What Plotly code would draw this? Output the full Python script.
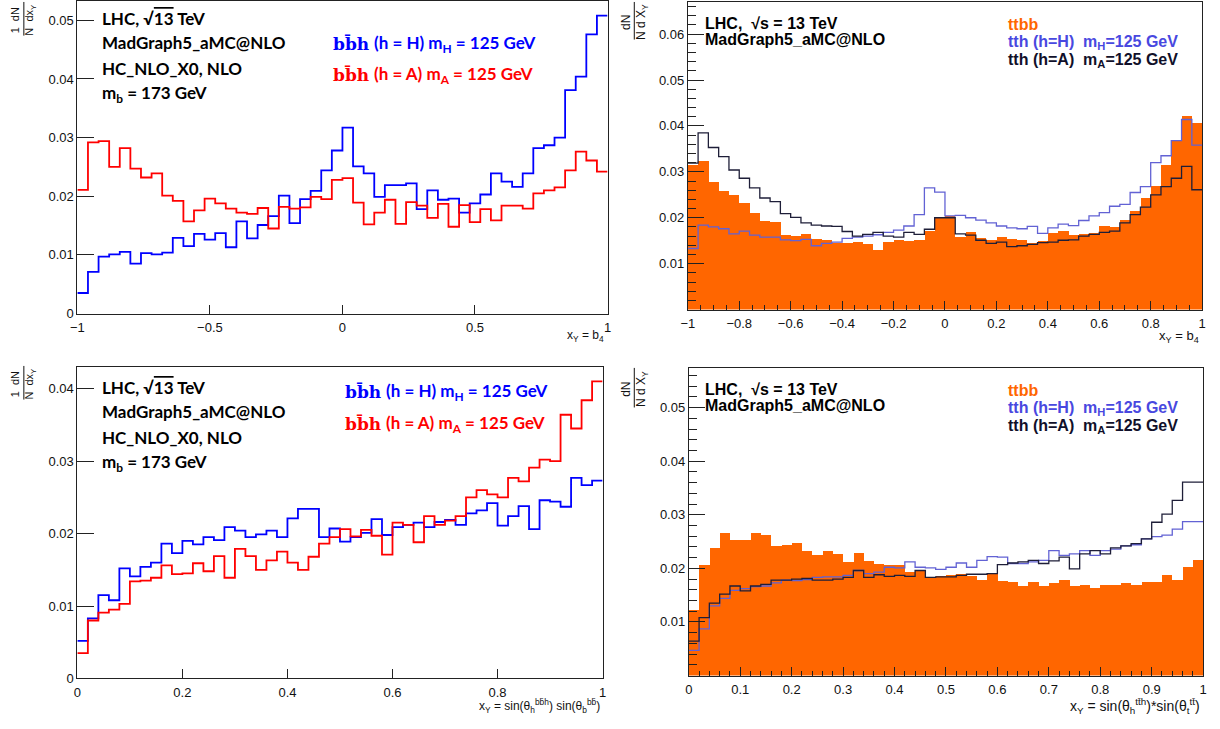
import numpy as np
import plotly.graph_objects as go

W, H = 1220, 729

# ---------------- data: normalised distributions, 50 bins each ----------------
b4_edges = np.linspace(-1.0, 1.0, 51)
sin_edges = np.linspace(0.0, 1.0, 51)

# b b~ h, x_Y = b4
bbh_H_b4 = [0.0035, 0.0071, 0.0097, 0.0101, 0.0105, 0.0085, 0.0103, 0.0101, 0.0104, 0.0129,
            0.0115, 0.0136, 0.0126, 0.0137, 0.0113, 0.0157, 0.0128, 0.0151, 0.0166, 0.0201,
            0.0154, 0.0195, 0.0209, 0.0244, 0.0278, 0.0317, 0.0251, 0.0239, 0.0199, 0.0219,
            0.0219, 0.0222, 0.0178, 0.0210, 0.0194, 0.0196, 0.0172, 0.0188, 0.0203, 0.0239,
            0.0225, 0.0216, 0.0239, 0.0282, 0.0287, 0.0300, 0.0381, 0.0404, 0.0476, 0.0508]
bbh_A_b4 = [0.0211, 0.0292, 0.0294, 0.0250, 0.0282, 0.0247, 0.0232, 0.0239, 0.0201, 0.0192,
            0.0157, 0.0176, 0.0196, 0.0188, 0.0179, 0.0172, 0.0170, 0.0180, 0.0145, 0.0182,
            0.0179, 0.0181, 0.0199, 0.0195, 0.0228, 0.0231, 0.0189, 0.0152, 0.0172, 0.0194,
            0.0153, 0.0190, 0.0184, 0.0163, 0.0187, 0.0148, 0.0185, 0.0156, 0.0178, 0.0159,
            0.0184, 0.0184, 0.0179, 0.0205, 0.0210, 0.0215, 0.0244, 0.0276, 0.0261, 0.0242]

# b b~ h, x_Y = sin * sin
bbh_H_sin = [0.0052, 0.0083, 0.0115, 0.0108, 0.0152, 0.0141, 0.0154, 0.0160, 0.0186, 0.0173,
             0.0190, 0.0185, 0.0195, 0.0191, 0.0209, 0.0204, 0.0195, 0.0199, 0.0204, 0.0195,
             0.0221, 0.0234, 0.0234, 0.0195, 0.0207, 0.0189, 0.0195, 0.0201, 0.0220, 0.0198,
             0.0209, 0.0212, 0.0215, 0.0209, 0.0216, 0.0219, 0.0212, 0.0228, 0.0232, 0.0242,
             0.0211, 0.0224, 0.0238, 0.0206, 0.0246, 0.0244, 0.0237, 0.0277, 0.0267, 0.0273]
bbh_A_sin = [0.0035, 0.0080, 0.0091, 0.0095, 0.0103, 0.0134, 0.0135, 0.0139, 0.0156, 0.0144,
             0.0145, 0.0159, 0.0148, 0.0169, 0.0139, 0.0179, 0.0169, 0.0150, 0.0163, 0.0175,
             0.0160, 0.0150, 0.0168, 0.0186, 0.0195, 0.0206, 0.0196, 0.0205, 0.0197, 0.0171,
             0.0215, 0.0212, 0.0188, 0.0224, 0.0212, 0.0218, 0.0224, 0.0250, 0.0260, 0.0254,
             0.0250, 0.0277, 0.0272, 0.0291, 0.0302, 0.0300, 0.0364, 0.0345, 0.0384, 0.0410]

# t t~ b b~ and t t~ h, x_Y = b4
ttbb_b4 = [0.0315, 0.0324, 0.0278, 0.0258, 0.0250, 0.0232, 0.0211, 0.0194, 0.0191, 0.0163,
           0.0160, 0.0165, 0.0153, 0.0151, 0.0146, 0.0146, 0.0147, 0.0142, 0.0129, 0.0148,
           0.0151, 0.0150, 0.0151, 0.0171, 0.0202, 0.0204, 0.0158, 0.0168, 0.0155, 0.0151,
           0.0158, 0.0153, 0.0152, 0.0145, 0.0150, 0.0167, 0.0171, 0.0163, 0.0165, 0.0167,
           0.0183, 0.0180, 0.0196, 0.0214, 0.0243, 0.0270, 0.0315, 0.0369, 0.0422, 0.0407]
tth_H_b4 = [0.0133, 0.0184, 0.0180, 0.0176, 0.0165, 0.0171, 0.0162, 0.0158, 0.0158, 0.0152,
            0.0150, 0.0153, 0.0139, 0.0144, 0.0147, 0.0155, 0.0158, 0.0160, 0.0163, 0.0168,
            0.0173, 0.0182, 0.0207, 0.0265, 0.0256, 0.0204, 0.0205, 0.0200, 0.0195, 0.0189,
            0.0182, 0.0178, 0.0176, 0.0181, 0.0166, 0.0178, 0.0186, 0.0183, 0.0194, 0.0204,
            0.0211, 0.0225, 0.0229, 0.0255, 0.0268, 0.0320, 0.0335, 0.0368, 0.0414, 0.0358]
tth_A_b4 = [0.0319, 0.0385, 0.0353, 0.0333, 0.0304, 0.0286, 0.0265, 0.0243, 0.0235, 0.0209,
            0.0201, 0.0189, 0.0184, 0.0182, 0.0181, 0.0170, 0.0160, 0.0164, 0.0168, 0.0160,
            0.0158, 0.0168, 0.0164, 0.0175, 0.0200, 0.0200, 0.0165, 0.0162, 0.0151, 0.0144,
            0.0147, 0.0137, 0.0139, 0.0142, 0.0146, 0.0147, 0.0151, 0.0152, 0.0160, 0.0164,
            0.0168, 0.0171, 0.0189, 0.0207, 0.0223, 0.0250, 0.0268, 0.0286, 0.0312, 0.0261]

# t t~ b b~ and t t~ h, x_Y = sin * sin
ttbb_sin = [0.0122, 0.0206, 0.0239, 0.0266, 0.0253, 0.0253, 0.0266, 0.0262, 0.0241, 0.0244,
            0.0247, 0.0233, 0.0225, 0.0233, 0.0227, 0.0212, 0.0229, 0.0213, 0.0209, 0.0206,
            0.0207, 0.0194, 0.0196, 0.0183, 0.0185, 0.0187, 0.0190, 0.0186, 0.0179, 0.0189,
            0.0177, 0.0175, 0.0167, 0.0175, 0.0167, 0.0172, 0.0179, 0.0167, 0.0169, 0.0164,
            0.0169, 0.0169, 0.0173, 0.0169, 0.0175, 0.0175, 0.0187, 0.0178, 0.0202, 0.0216]
tth_H_sin = [0.0047, 0.0087, 0.0130, 0.0144, 0.0159, 0.0162, 0.0166, 0.0167, 0.0173, 0.0178,
             0.0177, 0.0179, 0.0183, 0.0184, 0.0184, 0.0187, 0.0196, 0.0190, 0.0193, 0.0202,
             0.0201, 0.0212, 0.0202, 0.0201, 0.0198, 0.0202, 0.0210, 0.0202, 0.0215, 0.0222,
             0.0221, 0.0209, 0.0209, 0.0212, 0.0215, 0.0233, 0.0224, 0.0227, 0.0233, 0.0224,
             0.0233, 0.0236, 0.0242, 0.0244, 0.0255, 0.0259, 0.0262, 0.0273, 0.0287, 0.0287]
tth_A_sin = [0.0064, 0.0108, 0.0135, 0.0152, 0.0167, 0.0158, 0.0167, 0.0170, 0.0178, 0.0178,
             0.0180, 0.0181, 0.0178, 0.0178, 0.0180, 0.0183, 0.0196, 0.0183, 0.0188, 0.0185,
             0.0187, 0.0185, 0.0196, 0.0183, 0.0184, 0.0184, 0.0187, 0.0189, 0.0189, 0.0190,
             0.0207, 0.0210, 0.0212, 0.0215, 0.0209, 0.0214, 0.0221, 0.0199, 0.0227, 0.0233,
             0.0227, 0.0238, 0.0242, 0.0246, 0.0255, 0.0286, 0.0301, 0.0327, 0.0361, 0.0361]

# tick labels
b4_ticks_left = [-1, -0.5, 0, 0.5, 1]
b4_ticks_right = [-1, -0.8, -0.6, -0.4, -0.2, 0, 0.2, 0.4, 0.6, 0.8, 1]
sin_ticks_left = [0, 0.2, 0.4, 0.6, 0.8, 1]
sin_ticks_right = [0, 0.1, 0.2, 0.3, 0.4, 0.5, 0.6, 0.7, 0.8, 0.9, 1]

# ---------------- styling ----------------
BLUE, RED = "#0000ff", "#ff0000"
ORANGE = "#ff6600"
TTH_H_COL, TTH_A_COL = "#6262d4", "#1e1e38"
ARIAL = "Liberation Sans, Arial"
TICK_FONT = dict(family=ARIAL, size=13, color="#111111")


def fmt(v):
    s = ("%g" % v)
    return s.replace("-", "\u2212")


def px_x(x):
    return x / W


def px_y(y):
    return 1 - y / H


def step(edges, vals, color, width, xa, ya, name):
    x = list(edges)
    y = list(vals) + [vals[-1]]
    return go.Scatter(x=x, y=y, mode="lines", line=dict(color=color, width=width, shape="hv"),
                      xaxis=xa, yaxis=ya, name=name, showlegend=False, hoverinfo="skip")


def filled(edges, vals, xa, ya, name):
    centers = 0.5 * (edges[:-1] + edges[1:])
    return go.Bar(x=centers, y=vals, width=float(edges[1] - edges[0]),
                  marker=dict(color=ORANGE, line=dict(width=0)),
                  xaxis=xa, yaxis=ya, name=name, showlegend=False, hoverinfo="skip")


fig = go.Figure()
fig.add_trace(step(b4_edges, bbh_H_b4, BLUE, 1.8, "x", "y", "bbh H"))
fig.add_trace(step(b4_edges, bbh_A_b4, RED, 1.8, "x", "y", "bbh A"))

fig.add_trace(filled(b4_edges, ttbb_b4, "x2", "y2", "ttbb"))
fig.add_trace(step(b4_edges, tth_H_b4, TTH_H_COL, 1.3, "x2", "y2", "tth H"))
fig.add_trace(step(b4_edges, tth_A_b4, TTH_A_COL, 1.3, "x2", "y2", "tth A"))

fig.add_trace(step(sin_edges, bbh_H_sin, BLUE, 1.8, "x3", "y3", "bbh H"))
fig.add_trace(step(sin_edges, bbh_A_sin, RED, 1.8, "x3", "y3", "bbh A"))

fig.add_trace(filled(sin_edges, ttbb_sin, "x4", "y4", "ttbb"))
fig.add_trace(step(sin_edges, tth_H_sin, TTH_H_COL, 1.3, "x4", "y4", "tth H"))
fig.add_trace(step(sin_edges, tth_A_sin, TTH_A_COL, 1.3, "x4", "y4", "tth A"))


def xaxis(px0, px1, rng, ticks, anchor, minor=None):
    d = dict(domain=[px_x(px0), px_x(px1)], range=rng, anchor=anchor,
             tickmode="array", tickvals=ticks, ticktext=[fmt(t) for t in ticks],
             ticks="inside", ticklen=9, tickwidth=1, tickcolor="#222",
             ticklabelstandoff=2,
             showline=True, mirror=True, linecolor="#222", linewidth=1,
             showgrid=False, zeroline=False, tickfont=TICK_FONT, fixedrange=True)
    if minor:
        d["minor"] = dict(dtick=minor, tick0=rng[0], ticks="inside", ticklen=5,
                          tickcolor="#222", showgrid=False)
    return d


def yaxis(py_top, py_bot, rng, ticks, anchor, ticklen, minor=None):
    d = dict(domain=[px_y(py_bot), px_y(py_top)], range=rng, anchor=anchor,
             tickmode="array", tickvals=ticks, ticktext=[fmt(t) for t in ticks],
             ticks="inside", ticklen=ticklen, tickwidth=1, tickcolor="#222",
             showline=True, mirror=True, linecolor="#222", linewidth=1,
             showgrid=False, zeroline=False, tickfont=TICK_FONT, fixedrange=True)
    if minor:
        d["minor"] = dict(dtick=minor, tick0=0, ticks="inside", ticklen=8,
                          tickcolor="#222", showgrid=False)
    return d


fig.update_layout(
    width=W, height=H, margin=dict(l=0, r=0, t=0, b=0),
    paper_bgcolor="white", plot_bgcolor="white",
    barmode="overlay", bargap=0,
    xaxis=xaxis(71, 606, [-1, 1], b4_ticks_left, "y"),
    yaxis=yaxis(1, 317, [0, 0.0533], [0, 0.01, 0.02, 0.03, 0.04, 0.05], "x", 17),
    xaxis2=xaxis(687, 1206, [-1, 1], b4_ticks_right, "y2", minor=0.05),
    yaxis2=yaxis(2, 313, [0, 0.0670], [0.01, 0.02, 0.03, 0.04, 0.05, 0.06], "x2", 16, minor=0.002),
    xaxis3=xaxis(71, 601, [0, 1], sin_ticks_left, "y3"),
    yaxis3=yaxis(371, 686, [0, 0.0430], [0, 0.01, 0.02, 0.03, 0.04], "x3", 17),
    xaxis4=xaxis(688, 1207, [0, 1], sin_ticks_right, "y4", minor=0.02),
    yaxis4=yaxis(372, 683, [0, 0.0574], [0.01, 0.02, 0.03, 0.04, 0.05], "x4", 16, minor=0.002),
)

ann = []


def text(x, y, s, size, color="#000", family="Lato", anchor="left", angle=0, weight="normal"):
    ann.append(dict(x=px_x(x), y=px_y(y), xref="paper", yref="paper", text=s,
                    showarrow=False, xanchor=anchor, yanchor="middle", textangle=angle,
                    font=dict(family=family, size=size, color=color, weight=weight)))


ROOT13 = "\u221a<span style=\"text-decoration:overline\">13</span>"
SERIF = "DejaVu Serif"

# left-hand panels: generator info and labels
for y0, xl, yb, yr in [(19, 327, 44, 76), (392, 339, 396, 429)]:
    text(94, y0, f"LHC, {ROOT13} TeV", 17, weight="bold")
    text(94, y0 + 24, "MadGraph5_aMC@NLO", 17, weight="bold")
    text(94, y0 + 50, "HC_NLO_X0, NLO", 17, weight="bold")
    text(94, y0 + 76, "m<sub>b</sub> = 173 GeV", 17, weight="bold")
    text(xl, yb, "bb\u0304h", 17, BLUE, SERIF, weight="bold")
    text(xl + 41, yb, "(h = H) m<sub>H</sub> = 125 GeV", 17, BLUE, weight="bold")
    text(xl, yr, "bb\u0304h", 17, RED, SERIF, weight="bold")
    text(xl + 41, yr, "(h = A) m<sub>A</sub> = 125 GeV", 17, RED, weight="bold")

# right-hand panels: generator info and labels
for ys in [(24, 40, 25, 43, 61), (394, 410, 395, 413, 431)]:
    text(702, ys[0], "LHC,  \u221as = 13 TeV", 16, "#000", ARIAL, weight="bold")
    text(702, ys[1], "MadGraph5_aMC@NLO", 16, "#000", ARIAL, weight="bold")
    text(1008, ys[2], "ttbb", 16, ORANGE, ARIAL, weight="bold")
    text(1008, ys[3], "tth (h=H)  m<sub>H</sub>=125 GeV", 16, "#4848e0", ARIAL, weight="bold")
    text(1008, ys[4], "tth (h=A)  m<sub>A</sub>=125 GeV", 16, "#10102a", ARIAL, weight="bold")

# axis titles
text(604, 340, "x<sub>Y</sub> = b<sub>4</sub>", 12, "#111", ARIAL, anchor="right")
text(1205, 340, "x<sub>Y</sub> = b<sub>4</sub>", 13, "#111", ARIAL, anchor="right")
text(600, 714, "x<sub>Y</sub> = sin(\u03b8<sub>h</sub><sup>bb\u0304h</sup>) sin(\u03b8<sub>b</sub><sup>bb\u0304</sup>)",
     12, "#111", ARIAL, anchor="right")
text(1206, 714, "x<sub>Y</sub> = sin(\u03b8<sub>h</sub><sup>tt\u0304h</sup>)*sin(\u03b8<sub>t</sub><sup>tt\u0304</sup>)",
     14, "#111", ARIAL, anchor="right")

# y-axis titles (rotated fractions)
text(17, 20, "1  dN<br>N  dx<sub>Y</sub>", 11, "#111", ARIAL, anchor="center", angle=-90)
text(17, 388, "1  dN<br>N  dx<sub>Y</sub>", 11, "#111", ARIAL, anchor="center", angle=-90)
text(633, 22, "dN<br>N d X<sub>Y</sub>", 12, "#111", ARIAL, anchor="center", angle=-90)
text(633, 393, "dN<br>N d X<sub>Y</sub>", 12, "#111", ARIAL, anchor="center", angle=-90)

fig.update_layout(annotations=ann)

# fraction bars of the rotated y-axis titles
shapes = []
for (x, y0, y1) in [(17, 2, 36), (17, 370, 404), (633, 2, 40), (633, 372, 412)]:
    shapes.append(dict(type="line", xref="paper", yref="paper",
                       x0=px_x(x), x1=px_x(x), y0=px_y(y0), y1=px_y(y1),
                       line=dict(color="#111", width=1)))
fig.update_layout(shapes=shapes)

fig.write_html("out.html")
